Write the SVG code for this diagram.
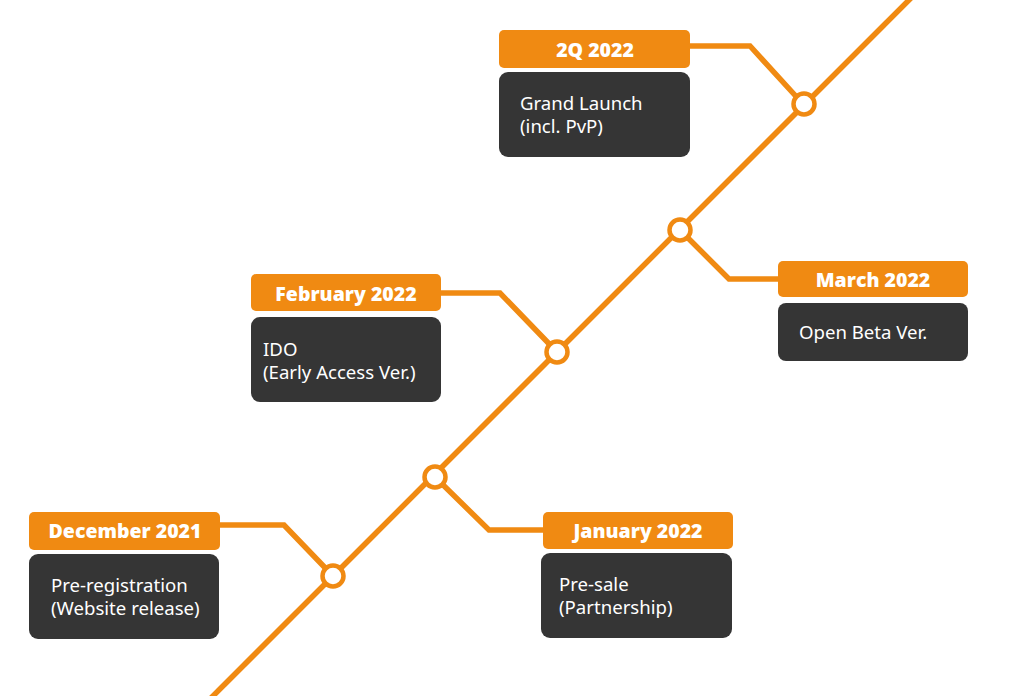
<svg xmlns="http://www.w3.org/2000/svg" width="1011" height="696" viewBox="0 0 1011 696">
<style>
.hdr{fill:#F08A12}
.box{fill:#353535}
.ht{font-family:"Open Sans","Liberation Sans",sans-serif;font-weight:800;font-size:19.5px;fill:#fff;text-anchor:middle}
.bt{font-family:"Noto Sans","Open Sans",sans-serif;font-size:18.6px;fill:#fff}
.ln{fill:none;stroke:#F08A12;stroke-width:5.5;stroke-linejoin:miter}
.dot{fill:#fff;stroke:#F08A12;stroke-width:4.5}
</style>
<rect width="1011" height="696" fill="#fff"/>
<g id="connectors">
<line class="ln" x1="211" y1="698" x2="913" y2="-4"/>
<polyline class="ln" points="689,46 750,46 803,104"/>
<polyline class="ln" points="440,293 500,293 557,352"/>
<polyline class="ln" points="680,230 729,279 779,279"/>
<polyline class="ln" points="219,525 284,525 333,576"/>
<polyline class="ln" points="435,477 489,530 544,530"/>
</g>
<g id="n-2q2022">
<rect class="hdr" x="499" y="30" width="191" height="38" rx="5"/>
<text class="ht" x="595" y="57">2Q 2022</text>
<rect class="box" x="499" y="72" width="191" height="85" rx="9"/>
<text class="bt" x="520" y="110">Grand Launch</text>
<text class="bt" x="520" y="133">(incl. PvP)</text>
</g>
<g id="n-feb2022">
<rect class="hdr" x="251" y="274" width="190" height="37" rx="5"/>
<text class="ht" x="346" y="301">February 2022</text>
<rect class="box" x="251" y="317" width="190" height="85" rx="9"/>
<text class="bt" x="263" y="356">IDO</text>
<text class="bt" x="263" y="379">(Early Access Ver.)</text>
</g>
<g id="n-mar2022">
<rect class="hdr" x="778" y="261" width="190" height="36" rx="5"/>
<text class="ht" x="873" y="287">March 2022</text>
<rect class="box" x="778" y="303" width="190" height="58" rx="8"/>
<text class="bt" x="799" y="339">Open Beta Ver.</text>
</g>
<g id="n-dec2021">
<rect class="hdr" x="29" y="512" width="191" height="38" rx="5"/>
<text class="ht" x="125" y="538">December 2021</text>
<rect class="box" x="29" y="554" width="190" height="85" rx="9"/>
<text class="bt" x="51" y="592">Pre-registration</text>
<text class="bt" x="51" y="615">(Website release)</text>
</g>
<g id="n-jan2022">
<rect class="hdr" x="543" y="512" width="190" height="37" rx="5"/>
<text class="ht" x="638" y="538">January 2022</text>
<rect class="box" x="541" y="553" width="191" height="85" rx="9"/>
<text class="bt" x="559" y="591">Pre-sale</text>
<text class="bt" x="559" y="614">(Partnership)</text>
</g>
<g id="dots">
<circle class="dot" cx="333" cy="576" r="10.5"/>
<circle class="dot" cx="435" cy="477" r="10.5"/>
<circle class="dot" cx="557" cy="352" r="10.5"/>
<circle class="dot" cx="680" cy="230" r="10.5"/>
<circle class="dot" cx="804" cy="104" r="10.5"/>
</g>
</svg>
